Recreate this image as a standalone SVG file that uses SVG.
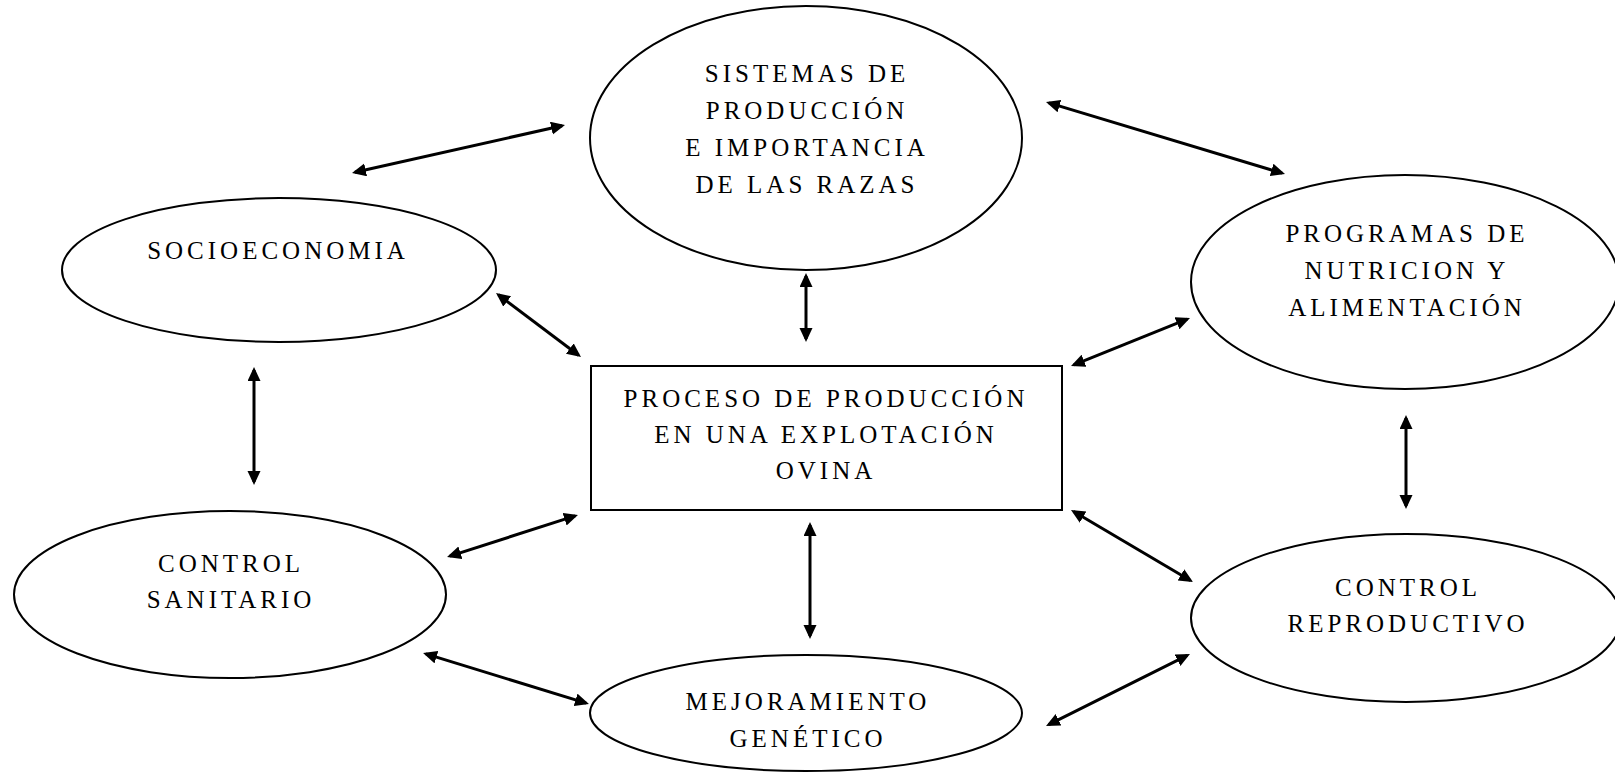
<svg xmlns="http://www.w3.org/2000/svg" width="1615" height="772" viewBox="0 0 1615 772">
<defs>
<style>
.shape{fill:#fff;stroke:#000;stroke-width:2}
.lbl{font-family:"Liberation Serif","Times New Roman",serif;font-size:25px;letter-spacing:4px;fill:#000;text-anchor:middle}
.conn{stroke:#000;stroke-width:3;fill:none;marker-start:url(#ah);marker-end:url(#ah)}
</style>
<marker id="ah" markerUnits="userSpaceOnUse" markerWidth="16" markerHeight="14" refX="11" refY="6.5" orient="auto-start-reverse">
<path d="M0,0 L14,6.5 L0,13 z" fill="#000"/>
</marker>
</defs>
<rect width="1615" height="772" fill="#fff"/>
<g id="connectors">
<line class="conn" x1="354.9" y1="172.3" x2="562.1" y2="125.7"/>
<line class="conn" x1="1048.9" y1="102.9" x2="1282.1" y2="173.1"/>
<line class="conn" x1="806" y1="276" x2="806" y2="339"/>
<line class="conn" x1="498.4" y1="294.8" x2="578.6" y2="355.2"/>
<line class="conn" x1="1073.8" y1="364.9" x2="1187.2" y2="319.1"/>
<line class="conn" x1="254" y1="370" x2="254" y2="482"/>
<line class="conn" x1="1406" y1="418" x2="1406" y2="506"/>
<line class="conn" x1="449.9" y1="556.1" x2="575.1" y2="515.9"/>
<line class="conn" x1="1073.6" y1="511.5" x2="1190.4" y2="580.5"/>
<line class="conn" x1="810" y1="525" x2="810" y2="636"/>
<line class="conn" x1="425.9" y1="653.9" x2="586.1" y2="703.1"/>
<line class="conn" x1="1048.7" y1="724.7" x2="1187.3" y2="655.3"/>
</g>
<g id="sistemas">
<ellipse class="shape" cx="806" cy="138" rx="216" ry="132"/>
<text class="lbl" x="807" y="82">SISTEMAS DE</text>
<text class="lbl" x="807" y="119">PRODUCCIÓN</text>
<text class="lbl" x="807" y="156">E IMPORTANCIA</text>
<text class="lbl" x="807" y="193">DE LAS RAZAS</text>
</g>
<g id="socioeconomia">
<ellipse class="shape" cx="279" cy="270" rx="217" ry="72"/>
<text class="lbl" x="278" y="259">SOCIOECONOMIA</text>
</g>
<g id="programas">
<ellipse class="shape" cx="1405" cy="282" rx="214" ry="107"/>
<text class="lbl" x="1407" y="242">PROGRAMAS DE</text>
<text class="lbl" x="1407" y="279">NUTRICION Y</text>
<text class="lbl" x="1407" y="316">ALIMENTACIÓN</text>
</g>
<g id="proceso">
<rect class="shape" x="591" y="366" width="471" height="144"/>
<text class="lbl" x="826" y="407">PROCESO DE PRODUCCIÓN</text>
<text class="lbl" x="826" y="443">EN UNA EXPLOTACIÓN</text>
<text class="lbl" x="826" y="479">OVINA</text>
</g>
<g id="sanitario">
<ellipse class="shape" cx="230" cy="594.5" rx="216" ry="83.5"/>
<text class="lbl" x="231" y="572">CONTROL</text>
<text class="lbl" x="231" y="608">SANITARIO</text>
</g>
<g id="reproductivo">
<ellipse class="shape" cx="1406" cy="618" rx="215" ry="84"/>
<text class="lbl" x="1408" y="596">CONTROL</text>
<text class="lbl" x="1408" y="632">REPRODUCTIVO</text>
</g>
<g id="mejoramiento">
<ellipse class="shape" cx="806" cy="713" rx="216" ry="58"/>
<text class="lbl" x="808" y="710">MEJORAMIENTO</text>
<text class="lbl" x="808" y="747">GENÉTICO</text>
</g>
</svg>
